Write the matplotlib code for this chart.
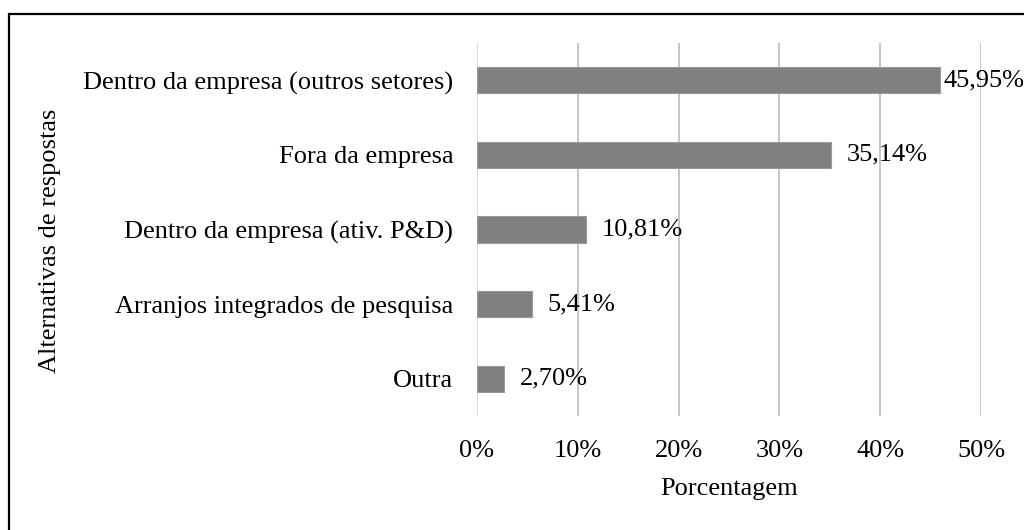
import matplotlib.pyplot as plt
from matplotlib.lines import Line2D

categorias = ["Dentro da empresa (outros setores)", "Fora da empresa",
              "Dentro da empresa (ativ. P&D)", "Arranjos integrados de pesquisa", "Outra"]
valores = [45.95, 35.14, 10.81, 5.41, 2.70]
ticks_x = [0, 10, 20, 30, 40, 50]

plt.rcParams['font.family'] = ['Liberation Serif', 'DejaVu Serif']
plt.rcParams['font.size'] = 19

fig = plt.figure(figsize=(10.24, 5.30), dpi=100)
ax = fig.add_axes([0.4658, 0.2151, 0.4922, 0.7038])

pos = list(range(len(categorias)))
ax.barh(pos, valores, height=0.35, color='#808080', edgecolor='#999999', linewidth=0.8, zorder=3)
rotulos = []
for p, v in zip(pos, valores):
    t = ax.annotate(f"{v:.2f}%".replace('.', ','), xy=(v, p), xytext=(11.5, 0),
                    textcoords='offset points', va='center', ha='left', zorder=4)
    rotulos.append(t)

ax.set_ylim(len(categorias) - 0.5, -0.5)
ax.set_xlim(0, 50)
ax.set_yticks(pos)
ax.set_yticklabels(categorias)
ax.set_xticks(ticks_x)
ax.set_xticklabels([f"{t}%" for t in ticks_x])
ax.tick_params(axis='both', length=0)
ax.tick_params(axis='y', pad=17)
ax.tick_params(axis='x', pad=17)
for s in ax.spines.values():
    s.set_visible(False)
ax.grid(axis='x', color='#c6c6c6', linewidth=1.4, zorder=0)
ax.get_xgridlines()[0].set_color('#dadada')
ax.set_axisbelow(True)
ax.set_xlabel("Porcentagem", va='center')
ax.xaxis.set_label_coords(0.5, -0.196)
fig.text(50 / 1024, 1 - 241 / 530, "Alternativas de respostas", rotation=90, ha='center', va='center')

# rótulos que passam da borda da figura são recolocados para dentro (como no Excel)
fig.canvas.draw()
r = fig.canvas.get_renderer()
for t in rotulos:
    bb = t.get_window_extent(r)
    excesso = bb.x1 - fig.bbox.width
    if excesso > 0:
        t.set_position((11.5 - excesso * 72 / fig.dpi, 0))

# moldura (borda superior e esquerda)
topo = 1 - 13.5 / 530
esq = 8.5 / 1024
fig.add_artist(Line2D([esq, esq, 1.0], [0.0, topo, topo], transform=fig.transFigure,
                      color='black', linewidth=1.6, solid_joinstyle='miter'))

fig.savefig("out.png", dpi=100)
